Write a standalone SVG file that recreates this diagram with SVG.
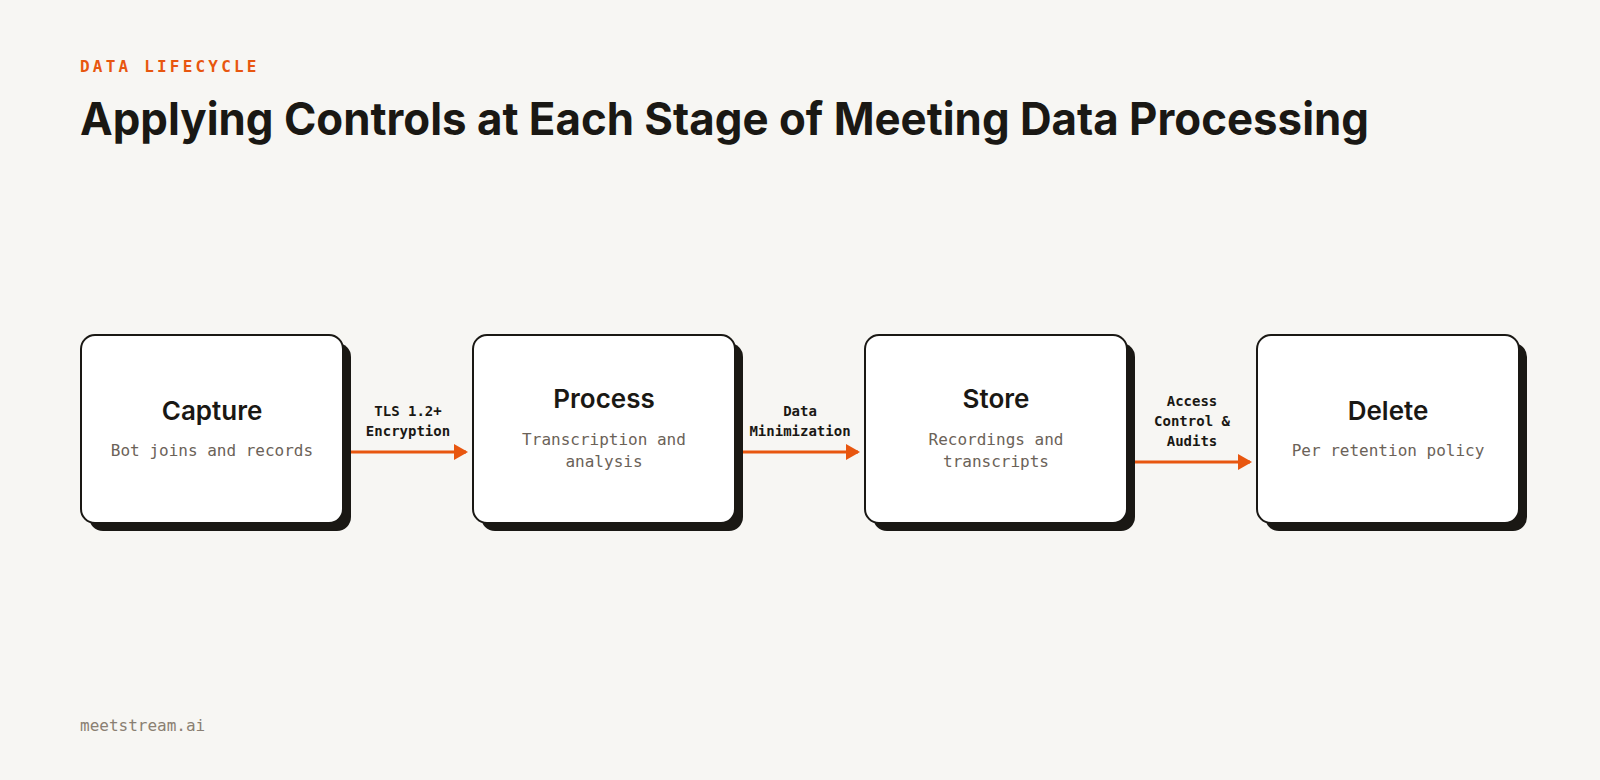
<svg xmlns="http://www.w3.org/2000/svg" width="1600" height="780" viewBox="0 0 1600 780">
<defs>
<style>
.mono{font-family:"DejaVu Sans Mono","Liberation Mono",monospace}
.kick{font-size:16px;fill:#E8560F;letter-spacing:3.2px;font-weight:bold}
.title{font-family:Inter,"Liberation Sans",sans-serif;font-weight:bold;font-size:45px;fill:#1a1814}
.box{fill:#fff;stroke:#1a1814;stroke-width:2}
.sh{fill:#1a1814}
.nt{font-family:Inter,"Liberation Sans",sans-serif;font-weight:600;font-size:26px;fill:#1a1814;text-anchor:middle}
.ns{font-size:16px;fill:#6b6258;text-anchor:middle}
.el{font-size:14px;fill:#1a1814;text-anchor:middle;font-weight:bold}
.ar{stroke:#E8560F;stroke-width:3;fill:none}
</style>
<marker id="ah" markerWidth="10" markerHeight="10" refX="9" refY="5" orient="auto" markerUnits="userSpaceOnUse" viewBox="0 0 10 10"><path d="M0,0 L10,5 L0,10 z" fill="#E8560F" transform="scale(1.4) translate(-3,-1.4)"/></marker>
</defs>
<rect width="1600" height="780" fill="#f7f6f3"/>
<text class="mono kick" x="80" y="72">DATA LIFECYCLE</text>
<text class="title" x="80" y="135" textLength="1289" lengthAdjust="spacingAndGlyphs">Applying Controls at Each Stage of Meeting Data Processing</text>
<g id="capture"><rect class="sh" x="89" y="343" width="262" height="188" rx="14"/><rect class="box" x="81" y="335" width="262" height="188" rx="14"/><text class="nt" x="212" y="420">Capture</text><text class="mono ns" x="212" y="456">Bot joins and records</text></g>
<g id="process"><rect class="sh" x="481" y="343" width="262" height="188" rx="14"/><rect class="box" x="473" y="335" width="262" height="188" rx="14"/><text class="nt" x="604" y="408">Process</text><text class="mono ns" x="604" y="445">Transcription and</text><text class="mono ns" x="604" y="467">analysis</text></g>
<g id="store"><rect class="sh" x="873" y="343" width="262" height="188" rx="14"/><rect class="box" x="865" y="335" width="262" height="188" rx="14"/><text class="nt" x="996" y="408">Store</text><text class="mono ns" x="996" y="445">Recordings and</text><text class="mono ns" x="996" y="467">transcripts</text></g>
<g id="delete"><rect class="sh" x="1265" y="343" width="262" height="188" rx="14"/><rect class="box" x="1257" y="335" width="262" height="188" rx="14"/><text class="nt" x="1388" y="420">Delete</text><text class="mono ns" x="1388" y="456">Per retention policy</text></g>
<g id="connectors">
<path class="ar" d="M351,452 H466"/><path d="M454,444 L468,452 L454,460 z" fill="#E8560F"/>
<text class="mono el" x="408" y="416">TLS 1.2+</text><text class="mono el" x="408" y="436">Encryption</text>
<path class="ar" d="M743,452 H858"/><path d="M846,444 L860,452 L846,460 z" fill="#E8560F"/>
<text class="mono el" x="800" y="416">Data</text><text class="mono el" x="800" y="436">Minimization</text>
<path class="ar" d="M1135,462 H1250"/><path d="M1238,454 L1252,462 L1238,470 z" fill="#E8560F"/>
<text class="mono el" x="1192" y="406">Access</text><text class="mono el" x="1192" y="426">Control &amp;</text><text class="mono el" x="1192" y="446">Audits</text>
</g>
<text class="mono" x="80" y="731" font-size="16" fill="#8a7f72">meetstream.ai</text>
</svg>
